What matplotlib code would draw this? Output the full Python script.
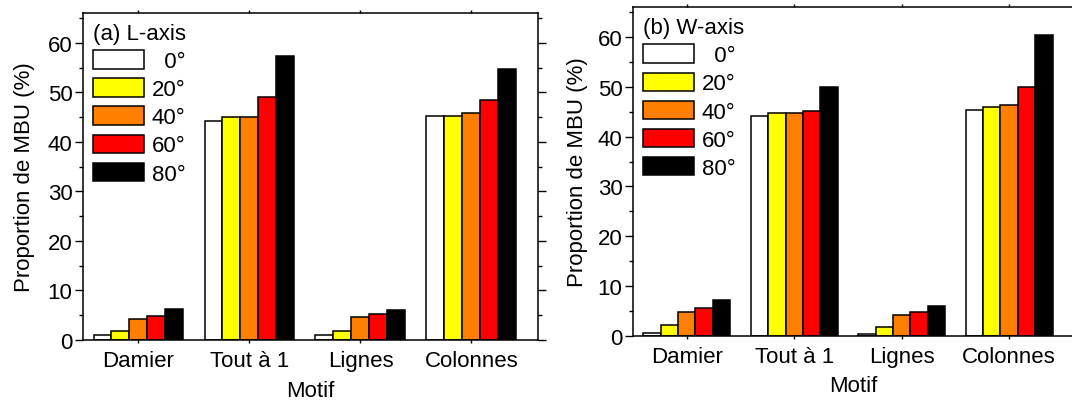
import numpy as np
import matplotlib.pyplot as plt
from matplotlib.ticker import MultipleLocator

plt.rcParams['font.family'] = ['Liberation Sans', 'DejaVu Sans']

motifs = ['Damier', 'Tout à 1', 'Lignes', 'Colonnes']
angles = ['  0°', '20°', '40°', '60°', '80°']
colors = ['white', '#FFFF00', '#FF8000', '#FF0000', 'black']

# L-axis, one list per angle (Damier, Tout a 1, Lignes, Colonnes)
l_0 = [1.0, 44.2, 0.95, 45.25]
l_20 = [1.8, 45.0, 1.8, 45.2]
l_40 = [4.2, 45.1, 4.6, 45.9]
l_60 = [4.85, 49.0, 5.3, 48.5]
l_80 = [6.3, 57.3, 6.1, 54.7]

# W-axis
w_0 = [0.6, 44.2, 0.27, 45.3]
w_20 = [2.1, 44.7, 1.8, 46.0]
w_40 = [4.75, 44.75, 4.15, 46.3]
w_60 = [5.5, 45.1, 4.8, 50.0]
w_80 = [7.15, 50.0, 5.95, 60.5]

panels = [('(a) L-axis', [l_0, l_20, l_40, l_60, l_80], 9),
          ('(b) W-axis', [w_0, w_20, w_40, w_60, w_80], 7)]

fig = plt.figure(figsize=(10.72, 4.06), dpi=100)
ax1 = fig.add_axes([0.0774, 0.160, 0.4245, 0.8055])
ax2 = fig.add_axes([0.5905, 0.1707, 0.411, 0.809])

x = np.arange(1, 5)
w = 0.162
fs = 16

for ax, (title, series, ypad) in zip([ax1, ax2], panels):
    for i, vals in enumerate(series):
        ax.bar(x + (i - 2) * w, vals, w, color=colors[i], edgecolor='black',
               linewidth=1.1, label=angles[i])
    ax.set_xlim(0.5, 4.6)
    ax.set_ylim(0, 66)
    ax.set_xticks(x)
    ax.set_xticklabels(motifs, fontsize=fs)
    ax.yaxis.set_major_locator(MultipleLocator(10))
    ax.yaxis.set_minor_locator(MultipleLocator(5))
    ax.tick_params(axis='y', labelsize=fs, pad=2)
    ax.tick_params(axis='x', pad=5)
    ax.tick_params(which='major', direction='out', length=5.5, width=1,
                   right=True)
    ax.tick_params(which='minor', direction='out', length=3, width=1,
                   right=True)
    ax.tick_params(axis='x', which='major', top=True, length=2.5)
    ax.tick_params(axis='x', which='minor', bottom=False, top=False)
    for s in ax.spines.values():
        s.set_linewidth(1.1)
    ax.set_xlabel('Motif', fontsize=fs, labelpad=6)
    ax.set_ylabel('Proportion de MBU (%)', fontsize=fs, labelpad=ypad)
    leg = ax.legend(loc='upper left', title=title, frameon=False,
                    fontsize=fs, title_fontsize=fs, handlelength=2.3,
                    handleheight=0.9, labelspacing=0.28, handletextpad=0.35,
                    borderaxespad=0.2, borderpad=0.25)
    leg._legend_box.align = 'left'

fig.savefig('out.png', dpi=100)
